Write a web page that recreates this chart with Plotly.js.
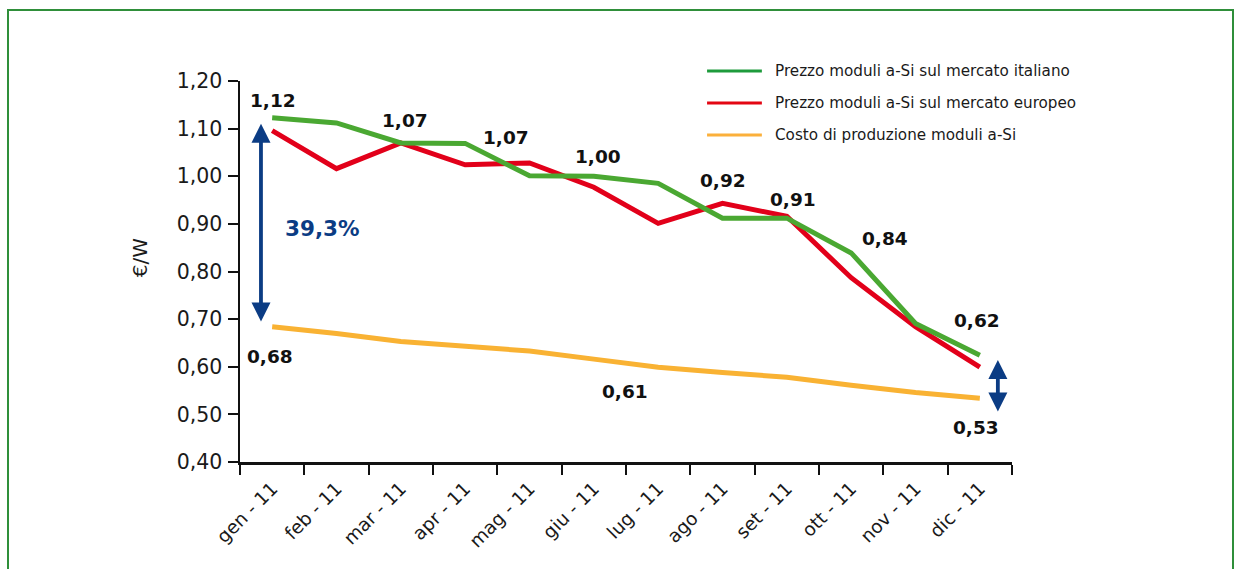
<!DOCTYPE html>
<html>
<head>
<meta charset="utf-8">
<script src="https://cdn.plot.ly/plotly-3.0.1.min.js"></script>
<style>
  html, body { margin: 0; padding: 0; background: #ffffff; }
  #frame { position: absolute; left: 7px; top: 9px; width: 1227px; height: 620px; border: 2px solid #2f8f3a; box-sizing: border-box; }
  #chart { position: absolute; left: 0; top: 0; width: 1243px; height: 569px; }
</style>
</head>
<body>
<div id="frame"></div>
<div id="chart"></div>
<script>
// ---- data ----
const months = ["gen - 11", "feb - 11", "mar - 11", "apr - 11", "mag - 11", "giu - 11",
                "lug - 11", "ago - 11", "set - 11", "ott - 11", "nov - 11", "dic - 11"];
const prezzoItaliano = [1.123, 1.112, 1.070, 1.069, 1.001, 1.000, 0.985, 0.912, 0.912, 0.839, 0.691, 0.624];
const prezzoEuropeo  = [1.096, 1.016, 1.070, 1.024, 1.028, 0.977, 0.901, 0.943, 0.916, 0.787, 0.684, 0.599];
const costoProduzione = [0.684, 0.670, 0.653, 0.643, 0.633, 0.616, 0.599, 0.588, 0.578, 0.561, 0.546, 0.534];
const seriesNames = ["Prezzo moduli a-Si sul mercato italiano",
                     "Prezzo moduli a-Si sul mercato europeo",
                     "Costo di produzione moduli a-Si"];
const valueLabels = ["1,12", "1,07", "1,07", "1,00", "0,92", "0,91", "0,84", "0,62", "0,68", "0,61", "0,53"];
const pctLabels = ["39,3%", "14,5%"];
const yTitle = "€/W";

// ---- styles / positions ----
const FONT = "DejaVu Sans";
const colItaly = "#4aa832", colEurope = "#e2001a", colCost = "#f9b233";
const legendCols = ["#1e9b3c", "#e30613", "#fbb03b"];
const navy = "#0b3c84";
// label placement (category index, y in data units)
const labelPos = [[0.013,1.160],[2.065,1.118],[3.635,1.082],[5.065,1.042],[7.008,0.992],
                  [8.096,0.952],[9.526,0.870],[10.957,0.698],[-0.034,0.622],[5.485,0.549],[10.94,0.473]];
const pctPos = [[0.775,0.891],[12.32,0.555]];

function tr(y, color, name){
  return {x: months, y: y, type: "scatter", mode: "lines", name: name,
          line: {color: color, width: 5, shape: "linear"}, showlegend: false, hoverinfo: "skip"};
}
const data = [tr(costoProduzione, colCost, seriesNames[2]),
              tr(prezzoEuropeo, colEurope, seriesNames[1]),
              tr(prezzoItaliano, colItaly, seriesNames[0])];

const annotations = [];
valueLabels.forEach((t,i)=>{
  annotations.push({x: labelPos[i][0], y: labelPos[i][1], xref: "x", yref: "y", text: t, showarrow: false,
    font: {family: FONT, size: 18.5, color: "#111111", weight: "bold"}, xanchor: "center", yanchor: "middle"});
});
pctLabels.forEach((t,i)=>{
  annotations.push({x: pctPos[i][0], y: pctPos[i][1], xref: "x", yref: "y", text: t, showarrow: false,
    font: {family: FONT, size: 21.5, color: navy, weight: "bold"}, xanchor: "center", yanchor: "middle"});
});
// double arrows
function dblArrow(x, y0, y1){
  annotations.push({x: x, y: y1, ax: x, ay: y0, xref: "x", yref: "y", axref: "x", ayref: "y",
    text: "", showarrow: true, arrowhead: 2, startarrowhead: 2, arrowside: "end+start",
    arrowsize: 1.0, startarrowsize: 1.0, arrowwidth: 3.8, arrowcolor: navy, standoff: 0, startstandoff: 0});
}
dblArrow(-0.174, 0.692, 1.110);
dblArrow(11.28, 0.503, 0.614);
// y title
annotations.push({x: -0.1295, y: 0.535, xref: "paper", yref: "paper", text: yTitle, showarrow: false,
  textangle: -90, font: {family: FONT, size: 20, color: "#1a1a1a"}, xanchor: "center", yanchor: "middle"});

// legend (manual)
const shapes = [];
const legY = [1.026, 0.942, 0.858];
seriesNames.forEach((n,i)=>{
  shapes.push({type: "line", xref: "paper", yref: "paper", x0: 0.605, x1: 0.676, y0: legY[i], y1: legY[i],
    line: {color: legendCols[i], width: 3}});
  annotations.push({x: 0.690, y: legY[i], xref: "paper", yref: "paper", text: n, showarrow: false,
    xanchor: "left", yanchor: "middle", font: {family: FONT, size: 15.2, color: "#1a1a1a"}});
});

const layout = {
  width: 1243, height: 569,
  paper_bgcolor: "rgba(0,0,0,0)", plot_bgcolor: "rgba(0,0,0,0)",
  margin: {l: 240, r: 231, t: 81, b: 107},
  separators: ",.",
  showlegend: false,
  font: {family: FONT, color: "#1a1a1a"},
  xaxis: {type: "category", range: [-0.5, 11.5], tickson: "boundaries", ticks: "outside", ticklen: 10,
          tickwidth: 2, tickcolor: "#111", showline: true, linecolor: "#111", linewidth: 2.5,
          showgrid: false, zeroline: false, tickangle: -45, ticklabelstandoff: 6,
          tickfont: {family: FONT, size: 18.5, color: "#1a1a1a"}, fixedrange: true},
  yaxis: {range: [0.40, 1.20], dtick: 0.1, tick0: 0.4, tickformat: ".2f", ticks: "outside", ticklen: 10,
          tickwidth: 2, tickcolor: "#111", showline: true, linecolor: "#111", linewidth: 2.5,
          showgrid: false, zeroline: false, ticklabelstandoff: 1,
          tickfont: {family: FONT, size: 20.5, color: "#1a1a1a"}, fixedrange: true},
  annotations: annotations,
  shapes: shapes
};
Plotly.newPlot("chart", data, layout, {displayModeBar: false, staticPlot: true});
</script>
</body>
</html>
